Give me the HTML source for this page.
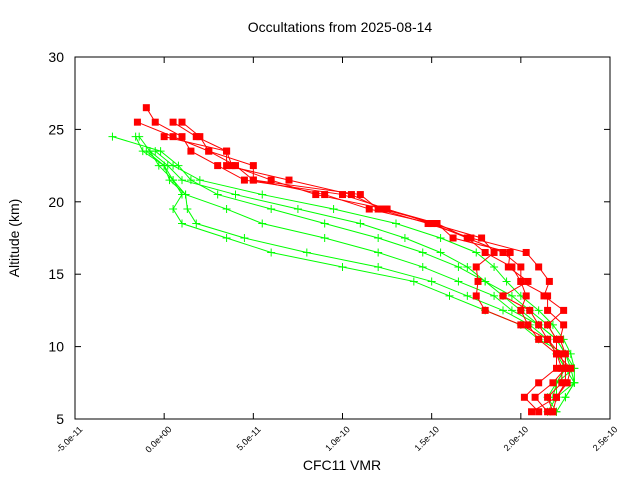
<!DOCTYPE html>
<html><head><meta charset="utf-8"><style>body{margin:0;background:#fff}svg{display:block;font-family:"Liberation Sans",sans-serif}</style></head>
<body>
<svg id="chart" width="640" height="480" viewBox="0 0 640 480">
<rect width="640" height="480" fill="#fff"/>
<text x="340" y="32" font-size="14" text-anchor="middle">Occultations from 2025-08-14</text>
<text x="342" y="470" font-size="14" text-anchor="middle">CFC11 VMR</text>
<text transform="translate(19,238) rotate(-90)" font-size="14" text-anchor="middle">Altitude (km)</text>
<g id="axes"></g>
<g id="series"></g>
<rect x="75" y="57" width="535" height="362" fill="none" stroke="#000" stroke-width="1"/>
</svg>
<script>
const xTicks=[-5e-11,0,5e-11,1e-10,1.5e-10,2e-10,2.5e-10];
const xTickLabels=["-5.0e-11","0.0e+00","5.0e-11","1.0e-10","1.5e-10","2.0e-10","2.5e-10"];
const yTicks=[5,10,15,20,25,30];
const redTops=[26.5,25.5,25.5,25.5,24.5];
const red1=[-1.0,-0.5,1.0,1.5,3.0,4.5,10.0,12.5,15.0,17.0,18.0,19.5,20.0,20.3,20.0,20.4,21.0,22.0,22.0,21.0,20.2,21.0];
const red2=[-1.5,0.5,2.5,4.0,5.0,9.0,11.5,15.0,17.8,18.5,17.5,17.6,17.5,18.0,20.0,21.5,22.0,22.3,22.3,21.5,21.8];
const red3=[0.5,1.8,3.5,3.5,7.0,10.5,12.2,15.3,16.2,19.4,19.3,20.4,19.0,20.5,21.0,21.5,22.2,22.5,22.5,22.0,21.8];
const red4=[1.0,2.0,2.5,5.0,5.0,11.0,12.0,14.8,17.2,20.3,21.0,21.6,21.3,22.4,21.5,22.0,22.0,22.8,22.6,22.0,20.6];
const red5=[0.0,3.5,3.8,6.0,8.5,12.4,15.3,17.0,19.0,20.0,20.0,21.5,21.5,22.4,22.2,22.5,22.5,21.8,20.8,21.5];
const greenTops=[24.5,24.5,24.5,23.5,23.5,23.5];
const green1=[-2.9,-0.2,0.8,1.5,3.0,6.0,9.0,12.0,14.5,16.5,18.0,19.0,20.0,21.0,22.0,22.5,23.0,23.0,22.5,22.0];
const green2=[-1.6,-1.2,0.0,0.5,1.0,0.5,1.0,3.5,6.0,10.0,14.0,16.0,18.0,20.0,21.0,22.5,22.5,23.0,22.0,21.5];
const green3=[-1.4,-0.8,0.2,1.0,4.0,7.5,11.0,13.5,15.5,17.0,18.0,19.5,20.5,21.5,22.0,22.0,22.5,22.0,21.5,22.0];
const green4=[-0.5,0.5,2.0,5.5,9.5,13.0,15.5,17.5,18.5,19.2,20.0,21.0,21.8,22.4,22.8,23.0,22.0,21.8];
const green5=[-0.8,-0.3,0.5,1.2,1.3,1.8,4.5,8.0,12.0,15.0,17.0,19.0,20.5,21.5,22.0,22.5,22.0,22.0];
const green6=[-1.0,0.0,0.3,1.2,3.5,5.5,9.0,12.0,14.5,16.5,18.5,19.5,21.0,22.0,22.5,22.8,23.0,22.5];
const SCALE=1e-11;
const NS="http://www.w3.org/2000/svg";
function X(v){return 75+(v-(-5e-11))/(3e-10)*535;}
function Y(a){return 57+(30-a)/25*362;}
function mk(t,attrs,parent){const e=document.createElementNS(NS,t);for(const k in attrs)e.setAttribute(k,attrs[k]);parent.appendChild(e);return e;}
const ax=document.getElementById('axes');
xTicks.forEach((t,i)=>{const x=X(t);
 const l=mk('line',{x1:x,x2:x,y1:419,y2:413,stroke:'#000'},ax);
 
 
 const l2=mk('line',{x1:x,x2:x,y1:57,y2:63,stroke:'#000'},ax);
 
 
 const tx=mk('text',{x:x+8,y:430,'font-size':9,'text-anchor':'end',transform:`rotate(-45 ${x+8} 430)`},ax);
 tx.textContent=xTickLabels[i];
 
 
});
yTicks.forEach(t=>{const y=Y(t);
 const l=mk('line',{x1:75,x2:81,y1:y,y2:y,stroke:'#000'},ax);
 
 
 const l2=mk('line',{x1:604,x2:610,y1:y,y2:y,stroke:'#000'},ax);
 
 
 const tx=mk('text',{x:64,y:y+5,'font-size':14,'text-anchor':'end'},ax);
 tx.textContent=String(t);
 
 
});
const sg=document.getElementById('series');
function draw(vals,top,color,square,name){
 const pts=vals.map((v,i)=>[X(v*SCALE),Y(top-i)]);
 const pl=mk('polyline',{points:pts.map(p=>p.join(',')).join(' '),fill:'none',stroke:color,'stroke-width':1},sg);
 
 
 pts.forEach(p=>{
  if(square){const r=mk('rect',{x:p[0]-3.5,y:p[1]-3.5,width:7,height:7,fill:color},sg);
   
   }
  else{const g=mk('path',{d:`M${p[0]-4},${p[1]}h8M${p[0]},${p[1]-4}v8`,stroke:color,'stroke-width':1},sg);
   
   }
 });
}
[green1,green2,green3,green4,green5,green6].forEach((s,i)=>draw(s,greenTops[i],'#00ff00',false,'green-profile-'+(i+1)));
[red1,red2,red3,red4,red5].forEach((s,i)=>draw(s,redTops[i],'#ff0000',true,'red-profile-'+(i+1)));
</script>
</body></html>
